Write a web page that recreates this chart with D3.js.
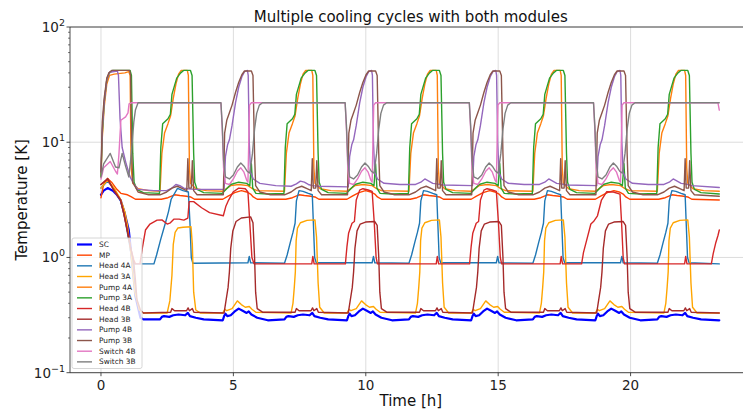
<!DOCTYPE html>
<html><head><meta charset="utf-8">
<script src="https://cdn.jsdelivr.net/npm/d3@7"></script>
<style>body{margin:0;background:#fff;}svg{display:block;font-family:"DejaVu Sans",sans-serif;}</style>
</head><body><svg id="c" width="743" height="412"></svg>
<script>
const seriesNames = ["SC","MP","Head 4A","Head 3A","Pump 4A","Pump 3A","Head 4B","Head 3B","Pump 4B","Pump 3B","Switch 4B","Switch 3B"];
const seriesColors = ["#0000ff","#ff4500","#1f77b4","#ffa500","#ff7f0e","#2ca02c","#d62728","#a52a2a","#9467bd","#8c564b","#e377c2","#7f7f7f"];
const xTickValues = [0,5,10,15,20];
const yTickExponents = [-1,0,1,2];

const sc = [[0,3.5],[0.1,3.8],[0.25,4.0],[0.45,3.8],[0.6,3.5],[0.74,3.15],[0.9,2.4],[1.05,1.73],[1.18,0.89],[1.3,0.46],[1.49,0.3],[1.6,0.29],
[2.23,0.29],[2.30,0.305],[2.38,0.31],[2.58,0.305],[2.73,0.315],[2.93,0.32],[3.18,0.315],[3.28,0.33],[3.36,0.31],[3.58,0.3],[3.88,0.29],
[4.60,0.285],[4.65,0.31],[4.70,0.325],[4.77,0.31],[4.90,0.315],[5.05,0.34],[5.20,0.36],[5.35,0.345],[5.50,0.33],[5.58,0.34],[5.68,0.32],[5.90,0.3],[6.30,0.285],
[6.93,0.29],[7.00,0.305],[7.08,0.31],[7.28,0.305],[7.43,0.315],[7.63,0.32],[7.88,0.315],[7.98,0.33],[8.06,0.31],[8.28,0.3],[8.58,0.29],
[9.29,0.285],[9.34,0.31],[9.39,0.325],[9.46,0.31],[9.59,0.315],[9.74,0.34],[9.89,0.36],[10.04,0.345],[10.19,0.33],[10.27,0.34],[10.37,0.32],[10.59,0.3],[10.99,0.285],
[11.63,0.29],[11.70,0.305],[11.78,0.31],[11.98,0.305],[12.13,0.315],[12.33,0.32],[12.58,0.315],[12.68,0.33],[12.76,0.31],[12.98,0.3],[13.28,0.29],
[13.98,0.285],[14.03,0.31],[14.08,0.325],[14.15,0.31],[14.28,0.315],[14.43,0.34],[14.58,0.36],[14.73,0.345],[14.88,0.33],[14.96,0.34],[15.06,0.32],[15.28,0.3],[15.68,0.285],
[16.31,0.29],[16.38,0.305],[16.46,0.31],[16.66,0.305],[16.81,0.315],[17.01,0.32],[17.26,0.315],[17.36,0.33],[17.44,0.31],[17.66,0.3],[17.96,0.29],
[18.67,0.285],[18.72,0.31],[18.77,0.325],[18.84,0.31],[18.97,0.315],[19.12,0.34],[19.27,0.36],[19.42,0.345],[19.57,0.33],[19.65,0.34],[19.75,0.32],[19.97,0.3],[20.37,0.285],
[21.01,0.29],[21.08,0.305],[21.16,0.31],[21.36,0.305],[21.51,0.315],[21.71,0.32],[21.96,0.315],[22.06,0.33],[22.14,0.31],[22.36,0.3],[22.66,0.29],[23.35,0.285]];

const mp = [[0,3.3],[0.1,4.3],[0.25,4.85],[0.4,4.5],[0.6,3.9],[0.75,3.6],[1.0,3.5],[1.15,3.35],[1.3,3.2],
[2.28,3.2],[2.53,3.3],[2.78,3.5],[2.98,3.45],[3.23,3.4],[3.38,3.35],[3.53,3.2],
[4.60,3.2],[4.80,3.4],[5.05,3.65],[5.30,3.8],[5.50,3.7],[5.65,3.55],[5.75,3.35],[5.90,3.2],
[6.98,3.2],[7.23,3.3],[7.48,3.5],[7.68,3.45],[7.93,3.4],[8.08,3.35],[8.23,3.2],
[9.29,3.2],[9.49,3.4],[9.74,3.65],[9.99,3.8],[10.19,3.7],[10.34,3.55],[10.44,3.35],[10.59,3.2],
[11.68,3.2],[11.93,3.3],[12.18,3.5],[12.38,3.45],[12.63,3.4],[12.78,3.35],[12.93,3.2],
[13.98,3.2],[14.18,3.4],[14.43,3.65],[14.68,3.8],[14.88,3.7],[15.03,3.55],[15.13,3.35],[15.28,3.2],
[16.36,3.2],[16.61,3.3],[16.86,3.5],[17.06,3.45],[17.31,3.4],[17.46,3.35],[17.61,3.2],
[18.67,3.2],[18.87,3.4],[19.12,3.65],[19.37,3.8],[19.57,3.7],[19.72,3.55],[19.82,3.35],[19.97,3.2],
[21.06,3.2],[21.31,3.3],[21.56,3.5],[21.76,3.45],[22.01,3.4],[22.16,3.35],[22.31,3.2],[23.35,3.15]];

const head4A = [[0,4.0],[0.25,4.6],[0.5,3.9],[0.74,3.1],[0.9,2.2],[1.05,1.4],[1.18,0.95],[1.25,0.88],
[2.0,0.88],[2.1,1.05],[2.25,1.42],[2.43,1.98],[2.55,2.5],[2.65,3.2],[2.89,3.97],[3.1,3.8],[3.3,3.7],[3.36,2.0],[3.41,1.0],[3.47,0.89],
[5.55,0.9],[5.60,1.02],[5.65,0.9],
[6.93,0.89],[7.03,1.05],[7.15,1.35],[7.25,1.65],[7.33,1.98],[7.38,3.1],[7.48,3.8],[7.63,3.75],[7.83,3.6],[7.98,3.5],[8.02,2.0],[8.07,1.0],[8.13,0.9],
[10.24,0.9],[10.29,1.02],[10.34,0.9],
[11.63,0.89],[11.73,1.05],[11.85,1.35],[11.95,1.65],[12.03,1.98],[12.08,3.1],[12.18,3.8],[12.33,3.75],[12.53,3.6],[12.68,3.5],[12.72,2.0],[12.77,1.0],[12.83,0.9],
[14.93,0.9],[14.98,1.02],[15.03,0.9],
[16.31,0.89],[16.41,1.05],[16.53,1.35],[16.63,1.65],[16.71,1.98],[16.76,3.1],[16.86,3.8],[17.01,3.75],[17.21,3.6],[17.36,3.5],[17.40,2.0],[17.45,1.0],[17.51,0.9],
[19.62,0.9],[19.67,1.02],[19.72,0.9],
[21.01,0.89],[21.11,1.05],[21.23,1.35],[21.33,1.65],[21.41,1.98],[21.46,3.1],[21.56,3.8],[21.71,3.75],[21.91,3.6],[22.06,3.5],[22.10,2.0],[22.15,1.0],[22.21,0.9],[23.35,0.88]];

const head3A = [[0,4.0],[0.25,4.7],[0.5,4.0],[0.74,3.2],[0.9,2.5],[1.0,1.9],[1.15,1.0],[1.28,0.5],[1.45,0.35],[1.6,0.33],
[2.5,0.33],[2.6,0.42],[2.68,0.7],[2.73,1.3],[2.8,1.65],[2.9,1.8],[3.1,1.83],[3.4,1.85],[3.45,1.3],[3.5,0.5],[3.58,0.35],[3.75,0.33],
[4.60,0.33],[4.68,0.355],[4.75,0.345],[4.95,0.36],[5.15,0.42],[5.30,0.39],[5.45,0.37],[5.60,0.375],[5.70,0.355],[5.85,0.335],
[7.18,0.33],[7.25,0.4],[7.30,0.55],[7.34,0.75],[7.37,1.4],[7.42,1.8],[7.53,2.0],[7.78,2.1],[8.08,2.12],[8.14,1.5],[8.20,0.6],[8.26,0.37],[8.43,0.33],
[9.29,0.33],[9.37,0.355],[9.44,0.345],[9.64,0.36],[9.84,0.42],[9.99,0.39],[10.14,0.37],[10.29,0.375],[10.39,0.355],[10.54,0.335],
[11.88,0.33],[11.95,0.4],[12.00,0.55],[12.04,0.75],[12.07,1.4],[12.12,1.8],[12.23,2.0],[12.48,2.1],[12.78,2.12],[12.84,1.5],[12.90,0.6],[12.96,0.37],[13.13,0.33],
[13.98,0.33],[14.06,0.355],[14.13,0.345],[14.33,0.36],[14.53,0.42],[14.68,0.39],[14.83,0.37],[14.98,0.375],[15.08,0.355],[15.23,0.335],
[16.56,0.33],[16.63,0.4],[16.68,0.55],[16.72,0.75],[16.75,1.4],[16.80,1.8],[16.91,2.0],[17.16,2.1],[17.46,2.12],[17.52,1.5],[17.58,0.6],[17.64,0.37],[17.81,0.33],
[18.67,0.33],[18.75,0.355],[18.82,0.345],[19.02,0.36],[19.22,0.42],[19.37,0.39],[19.52,0.37],[19.67,0.375],[19.77,0.355],[19.92,0.335],
[21.26,0.33],[21.33,0.4],[21.38,0.55],[21.42,0.75],[21.45,1.4],[21.50,1.8],[21.61,2.0],[21.86,2.1],[22.16,2.12],[22.22,1.5],[22.28,0.6],[22.34,0.37],[22.51,0.33],[23.35,0.33]];

const pump4A = [[0,5],[0.05,11],[0.12,20],[0.22,32],[0.32,38],[0.5,39],[0.9,40],[1.05,41],[1.1,38],[1.14,6],[1.2,4.4],[1.4,3.95],[1.8,3.8],
[2.23,3.75],[2.30,8],[2.40,12],[2.53,14.5],[2.63,17],[2.73,24],[2.83,32],[2.93,39],[3.03,42],[3.26,42],[3.30,38],[3.34,6],[3.38,4.4],[3.58,3.95],[3.98,3.8],
[4.58,3.75],[4.70,3.9],[4.90,4.2],[5.20,4.3],[5.55,4.2],[5.72,3.95],[5.90,3.8],
[6.93,3.75],[7.00,8],[7.10,12],[7.23,14.5],[7.33,17],[7.43,24],[7.53,32],[7.63,39],[7.73,42],[7.96,42],[8.00,38],[8.04,6],[8.08,4.4],[8.28,3.95],[8.68,3.8],
[9.27,3.75],[9.39,3.9],[9.59,4.2],[9.89,4.3],[10.24,4.2],[10.41,3.95],[10.59,3.8],
[11.63,3.75],[11.70,8],[11.80,12],[11.93,14.5],[12.03,17],[12.13,24],[12.23,32],[12.33,39],[12.43,42],[12.66,42],[12.70,38],[12.74,6],[12.78,4.4],[12.98,3.95],[13.38,3.8],
[13.96,3.75],[14.08,3.9],[14.28,4.2],[14.58,4.3],[14.93,4.2],[15.10,3.95],[15.28,3.8],
[16.31,3.75],[16.38,8],[16.48,12],[16.61,14.5],[16.71,17],[16.81,24],[16.91,32],[17.01,39],[17.11,42],[17.34,42],[17.38,38],[17.42,6],[17.46,4.4],[17.66,3.95],[18.06,3.8],
[18.65,3.75],[18.77,3.9],[18.97,4.2],[19.27,4.3],[19.62,4.2],[19.79,3.95],[19.97,3.8],
[21.01,3.75],[21.08,8],[21.18,12],[21.31,14.5],[21.41,17],[21.51,24],[21.61,32],[21.71,39],[21.81,42],[22.04,42],[22.08,38],[22.12,6],[22.16,4.4],[22.36,3.95],[22.76,3.8],[23.35,3.75]];

const pump3A = [[0,5],[0.05,12],[0.12,22],[0.22,35],[0.32,40],[0.45,42],[1.1,42],[1.15,38],[1.2,8],[1.25,4.5],[1.35,3.9],[1.6,3.65],
[2.21,3.6],[2.26,9],[2.33,14.5],[2.53,16],[2.62,17.5],[2.68,26],[2.86,36],[3.01,40],[3.12,42],[3.38,42],[3.44,38],[3.50,8],[3.54,4.5],[3.63,3.9],[3.88,3.65],
[4.58,3.6],[4.70,3.85],[4.90,4.3],[5.20,4.5],[5.50,4.4],[5.62,4.2],[5.68,6.5],[5.73,4.0],[5.85,3.6],[6.30,3.55],
[6.91,3.6],[6.96,9],[7.03,14.5],[7.23,16],[7.32,17.5],[7.38,26],[7.56,36],[7.71,40],[7.82,42],[8.08,42],[8.14,38],[8.20,8],[8.24,4.5],[8.33,3.9],[8.58,3.65],
[9.27,3.6],[9.39,3.85],[9.59,4.3],[9.89,4.5],[10.19,4.4],[10.31,4.2],[10.37,6.5],[10.42,4.0],[10.54,3.6],[10.99,3.55],
[11.61,3.6],[11.66,9],[11.73,14.5],[11.93,16],[12.02,17.5],[12.08,26],[12.26,36],[12.41,40],[12.52,42],[12.78,42],[12.84,38],[12.90,8],[12.94,4.5],[13.03,3.9],[13.28,3.65],
[13.96,3.6],[14.08,3.85],[14.28,4.3],[14.58,4.5],[14.88,4.4],[15.00,4.2],[15.06,6.5],[15.11,4.0],[15.23,3.6],[15.68,3.55],
[16.29,3.6],[16.34,9],[16.41,14.5],[16.61,16],[16.70,17.5],[16.76,26],[16.94,36],[17.09,40],[17.20,42],[17.46,42],[17.52,38],[17.58,8],[17.62,4.5],[17.71,3.9],[17.96,3.65],
[18.65,3.6],[18.77,3.85],[18.97,4.3],[19.27,4.5],[19.57,4.4],[19.69,4.2],[19.75,6.5],[19.80,4.0],[19.92,3.6],[20.37,3.55],
[20.99,3.6],[21.04,9],[21.11,14.5],[21.31,16],[21.40,17.5],[21.46,26],[21.64,36],[21.79,40],[21.90,42],[22.16,42],[22.22,38],[22.28,8],[22.32,4.5],[22.41,3.9],[22.66,3.65],[23.35,3.55]];

const head4B = [[0,4.3],[0.25,4.75],[0.48,3.85],[0.74,3.15],[0.86,2.41],[0.99,1.73],[1.11,1.24],[1.24,0.95],[1.3,0.88],[1.47,0.88],
[1.56,1.2],[1.68,1.73],[1.85,1.95],[2.12,2.11],[2.3,2.12],[2.5,1.95],[2.62,2.0],[2.75,2.15],[2.95,2.15],[3.13,2.11],[3.28,2.2],[3.33,3.05],[3.5,3.05],[3.8,2.7],[4.1,2.45],[4.62,2.3],
[4.72,2.8],[4.82,3.15],[5.00,3.72],[5.20,4.0],[5.45,3.95],[5.55,3.7],[5.62,2.0],[5.70,1.0],[5.78,0.88],
[7.96,0.88],[8.00,1.02],[8.05,0.88],
[9.23,0.88],[9.29,1.25],[9.35,1.62],[9.48,1.98],[9.57,2.05],[9.64,3.15],[9.77,3.84],[9.89,3.95],[10.09,3.85],[10.24,3.75],[10.32,2.0],[10.39,1.0],[10.44,0.88],
[12.66,0.88],[12.70,1.02],[12.75,0.88],
[13.92,0.88],[13.98,1.25],[14.04,1.62],[14.17,1.98],[14.26,2.05],[14.33,3.15],[14.46,3.84],[14.58,3.95],[14.78,3.85],[14.93,3.75],[15.01,2.0],[15.08,1.0],[15.13,0.88],
[17.34,0.88],[17.38,1.02],[17.43,0.88],
[18.15,0.88],[18.22,1.1],[18.32,1.35],[18.5,1.95],[18.6,2.05],[18.75,2.3],[18.9,3.15],[19.1,3.72],[19.35,3.7],[19.6,3.55],[19.66,2.0],[19.72,1.0],[19.77,0.88],
[22.04,0.88],[22.08,1.02],[22.13,0.88],
[23.05,0.88],[23.12,1.08],[23.22,1.35],[23.3,1.55],[23.35,1.73]];

const head3B = [[0,4.3],[0.25,4.85],[0.48,3.85],[0.74,3.15],[0.86,2.41],[0.99,1.73],[1.11,1.24],[1.24,0.9],[1.3,0.64],[1.36,0.43],[1.49,0.35],[1.6,0.33],
[2.63,0.335],[2.68,0.36],[2.78,0.345],[3.23,0.345],[3.29,0.365],[3.34,0.345],[3.45,0.36],[3.51,0.335],
[4.65,0.33],[4.72,0.42],[4.80,0.55],[4.85,0.75],[4.90,1.2],[4.98,1.7],[5.10,2.05],[5.30,2.2],[5.65,2.25],[5.74,2.0],[5.80,1.0],[5.84,0.5],[5.90,0.36],[6.10,0.335],
[7.33,0.335],[7.38,0.36],[7.48,0.345],[7.93,0.345],[7.99,0.365],[8.04,0.345],[8.15,0.36],[8.21,0.335],
[9.34,0.33],[9.41,0.42],[9.49,0.55],[9.54,0.75],[9.59,1.2],[9.67,1.7],[9.79,1.95],[9.99,2.03],[10.34,2.05],[10.43,1.9],[10.49,1.0],[10.53,0.5],[10.59,0.36],[10.79,0.335],
[12.03,0.335],[12.08,0.36],[12.18,0.345],[12.63,0.345],[12.69,0.365],[12.74,0.345],[12.85,0.36],[12.91,0.335],
[14.03,0.33],[14.10,0.42],[14.18,0.55],[14.23,0.75],[14.28,1.2],[14.36,1.7],[14.48,1.95],[14.68,2.03],[15.03,2.05],[15.12,1.9],[15.18,1.0],[15.22,0.5],[15.28,0.36],[15.48,0.335],
[16.71,0.335],[16.76,0.36],[16.86,0.345],[17.31,0.345],[17.37,0.365],[17.42,0.345],[17.53,0.36],[17.59,0.335],
[18.72,0.33],[18.79,0.42],[18.87,0.55],[18.92,0.75],[18.97,1.2],[19.05,1.7],[19.17,1.95],[19.37,2.03],[19.72,2.05],[19.81,1.9],[19.87,1.0],[19.91,0.5],[19.97,0.36],[20.17,0.335],
[21.41,0.335],[21.46,0.36],[21.56,0.345],[22.01,0.345],[22.07,0.365],[22.12,0.345],[22.23,0.36],[22.29,0.335],[23.35,0.33]];

const pump4B = [[0,5.5],[0.05,13],[0.12,22],[0.22,35],[0.32,40.5],[0.62,41.5],[0.66,38],[0.72,16],[0.8,9],[0.95,6.5],[1.1,5.0],[1.25,4.3],[1.4,3.9],[2.0,3.8],
[2.48,3.8],[2.68,4.0],[2.83,4.3],[2.98,4.2],[3.13,4.0],[3.28,3.95],[3.53,3.9],
[4.65,3.9],[4.70,7.5],[4.78,9.5],[4.85,10.5],[4.95,14],[5.08,22],[5.20,30],[5.32,37],[5.42,41],[5.53,42],[5.56,38],[5.60,10],[5.65,5.5],[5.75,4.8],[6.00,4.4],[6.60,4.2],
[7.18,4.15],[7.38,4.35],[7.53,4.6],[7.68,4.5],[7.83,4.3],[7.98,4.2],[8.23,4.15],
[9.34,4.1],[9.39,7.5],[9.47,9.5],[9.54,10.5],[9.64,14],[9.77,22],[9.89,30],[10.01,37],[10.11,41],[10.22,42],[10.25,38],[10.29,10],[10.34,5.5],[10.44,4.8],[10.69,4.4],[11.29,4.3],
[11.88,4.3],[12.08,4.5],[12.23,4.8],[12.38,4.6],[12.53,4.4],[12.68,4.35],[12.93,4.25],
[14.03,4.2],[14.08,7.5],[14.16,9.5],[14.23,10.5],[14.33,14],[14.46,22],[14.58,30],[14.70,37],[14.80,41],[14.91,42],[14.94,38],[14.98,10],[15.03,5.5],[15.13,4.8],[15.38,4.4],[15.98,4.3],
[16.56,4.3],[16.76,4.5],[16.91,4.8],[17.06,4.6],[17.21,4.4],[17.36,4.35],[17.61,4.25],
[18.72,4.2],[18.77,7.5],[18.85,9.5],[18.92,10.5],[19.02,14],[19.15,22],[19.27,30],[19.39,37],[19.49,41],[19.60,42],[19.63,38],[19.67,10],[19.72,5.5],[19.82,4.8],[20.07,4.4],[20.67,4.3],
[21.26,4.3],[21.46,4.5],[21.61,4.8],[21.76,4.6],[21.91,4.4],[22.06,4.35],[22.31,4.2],[23.35,4.05]];

const pump3B = [[0,5.5],[0.05,15],[0.12,24],[0.22,36],[0.3,40],[0.4,42],[1.08,42],[1.12,38],[1.16,8],[1.2,4.5],[1.4,3.7],[1.8,3.5],
[2.23,3.5],[2.48,3.7],[2.68,4.0],[2.88,4.15],[3.08,3.95],[3.24,3.8],[3.28,7.2],[3.32,4.0],[3.41,4.0],[3.45,6.9],[3.50,3.8],[3.63,3.5],
[4.62,3.5],[4.67,12],[4.75,15.5],[4.85,18],[4.95,21],[5.08,27],[5.20,33],[5.32,38.5],[5.42,41.5],[5.68,41.5],[5.74,38],[5.80,8],[5.84,4.2],[6.00,3.7],[6.40,3.5],
[6.93,3.5],[7.18,3.7],[7.38,4.0],[7.58,4.15],[7.78,3.95],[7.94,3.8],[7.98,7.2],[8.02,4.0],[8.11,4.0],[8.15,6.9],[8.20,3.8],[8.33,3.5],
[9.31,3.5],[9.36,12],[9.44,15.5],[9.54,18],[9.64,21],[9.77,27],[9.89,33],[10.01,38.5],[10.11,41.5],[10.37,41.5],[10.43,38],[10.49,8],[10.53,4.2],[10.69,3.7],[11.09,3.5],
[11.63,3.5],[11.88,3.7],[12.08,4.0],[12.28,4.15],[12.48,3.95],[12.64,3.8],[12.68,7.2],[12.72,4.0],[12.81,4.0],[12.85,6.9],[12.90,3.8],[13.03,3.5],
[14.00,3.5],[14.05,12],[14.13,15.5],[14.23,18],[14.33,21],[14.46,27],[14.58,33],[14.70,38.5],[14.80,41.5],[15.06,41.5],[15.12,38],[15.18,8],[15.22,4.2],[15.38,3.7],[15.78,3.5],
[16.31,3.5],[16.56,3.7],[16.76,4.0],[16.96,4.15],[17.16,3.95],[17.32,3.8],[17.36,7.2],[17.40,4.0],[17.49,4.0],[17.53,6.9],[17.58,3.8],[17.71,3.5],
[18.69,3.5],[18.74,12],[18.82,15.5],[18.92,18],[19.02,21],[19.15,27],[19.27,33],[19.39,38.5],[19.49,41.5],[19.75,41.5],[19.81,38],[19.87,8],[19.91,4.2],[20.07,3.7],[20.47,3.5],
[21.01,3.5],[21.26,3.7],[21.46,4.0],[21.66,4.15],[21.86,3.95],[22.02,3.8],[22.06,7.2],[22.10,4.0],[22.19,4.0],[22.23,6.9],[22.28,3.8],[22.41,3.5],[23.35,3.4]];

const switch4B = [[0,4.8],[0.1,6.0],[0.35,6.8],[0.55,5.6],[0.62,5.3],[0.68,8],[0.75,15.5],[0.93,16.6],[1.02,18],[1.06,21.5],[1.15,22],
[4.53,22],[4.58,13],[4.63,6],[4.70,4.4],[4.85,4.3],[5.00,4.8],[5.15,5.6],[5.28,6.0],[5.40,5.5],[5.50,4.7],[5.55,4.5],[5.58,10],[5.61,21],[5.68,22],
[9.22,22],[9.27,13],[9.32,6],[9.39,4.4],[9.54,4.3],[9.69,4.8],[9.84,5.6],[9.97,6.0],[10.09,5.5],[10.19,4.7],[10.24,4.5],[10.27,10],[10.30,21],[10.37,22],
[13.91,22],[13.96,13],[14.01,6],[14.08,4.4],[14.23,4.3],[14.38,4.8],[14.53,5.6],[14.66,6.0],[14.78,5.5],[14.88,4.7],[14.93,4.5],[14.96,10],[14.99,21],[15.06,22],
[18.60,22],[18.65,13],[18.70,6],[18.77,4.4],[18.92,4.3],[19.07,4.8],[19.22,5.6],[19.35,6.0],[19.47,5.5],[19.57,4.7],[19.62,4.5],[19.65,10],[19.68,21],[19.75,22],[23.30,22],[23.35,19]];

const switch3B = [[0,5.0],[0.1,6.5],[0.35,8.0],[0.55,6.1],[0.68,6.0],[0.8,8.0],[0.92,6.3],[1.05,5.0],[1.12,7],[1.18,10],[1.24,15],[1.3,19],[1.4,22],
[4.53,22],[4.58,14],[4.63,7],[4.70,5.0],[4.85,4.8],[5.00,5.2],[5.15,6.1],[5.28,6.6],[5.40,6.2],[5.52,5.6],[5.62,5.4],[5.72,8],[5.80,13],[5.88,17.8],[5.98,21],[6.10,22],
[9.22,22],[9.27,14],[9.32,7],[9.39,5.0],[9.54,4.8],[9.69,5.2],[9.84,6.1],[9.97,6.6],[10.09,6.2],[10.21,5.6],[10.31,5.4],[10.41,8],[10.49,13],[10.57,17.8],[10.67,21],[10.79,22],
[13.91,22],[13.96,14],[14.01,7],[14.08,5.0],[14.23,4.8],[14.38,5.2],[14.53,6.1],[14.66,6.6],[14.78,6.2],[14.90,5.6],[15.00,5.4],[15.10,8],[15.18,13],[15.26,17.8],[15.36,21],[15.48,22],
[18.60,22],[18.65,14],[18.70,7],[18.77,5.0],[18.92,4.8],[19.07,5.2],[19.22,6.1],[19.35,6.6],[19.47,6.2],[19.59,5.6],[19.69,5.4],[19.79,8],[19.87,13],[19.95,17.8],[20.05,21],[20.17,22],[23.35,22]];

const seriesData = [sc, mp, head4A, head3A, pump4A, pump3A, head4B, head3B, pump4B, pump3B, switch4B, switch3B];

const svg = d3.select("#c");
const L = 70, R = 751.6, T = 27, Bt = 372.7;
const x = d3.scaleLinear().domain([-1.17, 24.57]).range([L, R]);
const y = d3.scaleLog().domain([0.1, 100]).range([Bt, T]);

svg.append("defs").append("clipPath").attr("id","clip").append("rect")
  .attr("x",L).attr("y",T).attr("width",R-L).attr("height",Bt-T);

// grid
const g = svg.append("g");
g.selectAll(".vg").data(xTickValues).join("line")
  .attr("x1",d=>x(d)).attr("x2",d=>x(d)).attr("y1",T).attr("y2",Bt)
  .attr("stroke","#b0b0b0").attr("stroke-opacity",0.55).attr("stroke-width",0.8);
g.selectAll(".hg").data(yTickExponents).join("line")
  .attr("x1",L).attr("x2",R).attr("y1",d=>y(Math.pow(10,d))).attr("y2",d=>y(Math.pow(10,d)))
  .attr("stroke","#b0b0b0").attr("stroke-opacity",0.55).attr("stroke-width",0.8);

// lines
const line = d3.line().x(d=>x(d[0])).y(d=>y(d[1]));
const lg = svg.append("g").attr("clip-path","url(#clip)");
seriesData.forEach((s,i)=>{
  lg.append("path").attr("d",line(s)).attr("fill","none")
    .attr("stroke",seriesColors[i]).attr("stroke-width", i===0?2.2:1.4)
    .attr("stroke-linejoin","round").attr("stroke-linecap","round");
});

// spines
svg.append("line").attr("x1",L).attr("x2",L).attr("y1",T).attr("y2",Bt).attr("stroke","#222").attr("stroke-width",0.8);
svg.append("line").attr("x1",L).attr("x2",R).attr("y1",Bt).attr("y2",Bt).attr("stroke","#222").attr("stroke-width",0.8);
svg.append("line").attr("x1",L).attr("x2",R).attr("y1",T).attr("y2",T).attr("stroke","#222").attr("stroke-width",0.8);

// x ticks
xTickValues.forEach(v=>{
  svg.append("line").attr("x1",x(v)).attr("x2",x(v)).attr("y1",Bt).attr("y2",Bt+3.5).attr("stroke","#222").attr("stroke-width",0.8);
  svg.append("text").attr("x",x(v)).attr("y",Bt+17).attr("text-anchor","middle")
    .attr("font-size",13.5).attr("fill","#222").text(v);
});
// y ticks
yTickExponents.forEach(e=>{
  const yy = y(Math.pow(10,e));
  svg.append("line").attr("x1",L-3.5).attr("x2",L).attr("y1",yy).attr("y2",yy).attr("stroke","#222").attr("stroke-width",0.8);
  const t = svg.append("text").attr("x",L-5).attr("y",yy+5).attr("text-anchor","end").attr("font-size",13.5).attr("fill","#222");
  t.append("tspan").text("10");
  t.append("tspan").attr("dy",-6).attr("font-size",9.5).text(e<0?"\u2212"+Math.abs(e):String(e));
  if (e<2) for (let m=2;m<=9;m++){
    const ym = y(m*Math.pow(10,e));
    svg.append("line").attr("x1",L-2).attr("x2",L).attr("y1",ym).attr("y2",ym).attr("stroke","#222").attr("stroke-width",0.6);
  }
});

// labels
svg.append("text").attr("x",(L+R)/2).attr("y",22).attr("text-anchor","middle").attr("font-size",15).attr("fill","#111")
  .text("Multiple cooling cycles with both modules");
svg.append("text").attr("x",(L+R)/2).attr("y",406).attr("text-anchor","middle").attr("font-size",15).attr("fill","#111").text("Time [h]");
svg.append("text").attr("transform","translate(27,"+((T+Bt)/2)+") rotate(-90)").attr("text-anchor","middle")
  .attr("font-size",15).attr("fill","#111").text("Temperature [K]");

// legend
const lgX = 72, lgY = 238, rowH = 10.67;
const leg = svg.append("g");
leg.append("rect").attr("x",lgX).attr("y",lgY).attr("width",70).attr("height",130.5).attr("rx",2)
  .attr("fill","#fff").attr("fill-opacity",0.8).attr("stroke","#ccc").attr("stroke-width",0.8);
seriesNames.forEach((n,i)=>{
  const yy = lgY + 6.5 + i*rowH;
  leg.append("line").attr("x1",lgX+5).attr("x2",lgX+20).attr("y1",yy).attr("y2",yy)
    .attr("stroke",seriesColors[i]).attr("stroke-width", i===0?2.2:1.4);
  leg.append("text").attr("x",lgX+27).attr("y",yy+2.6).attr("font-size",7.4).attr("fill","#222").text(n);
});
</script></body></html>
